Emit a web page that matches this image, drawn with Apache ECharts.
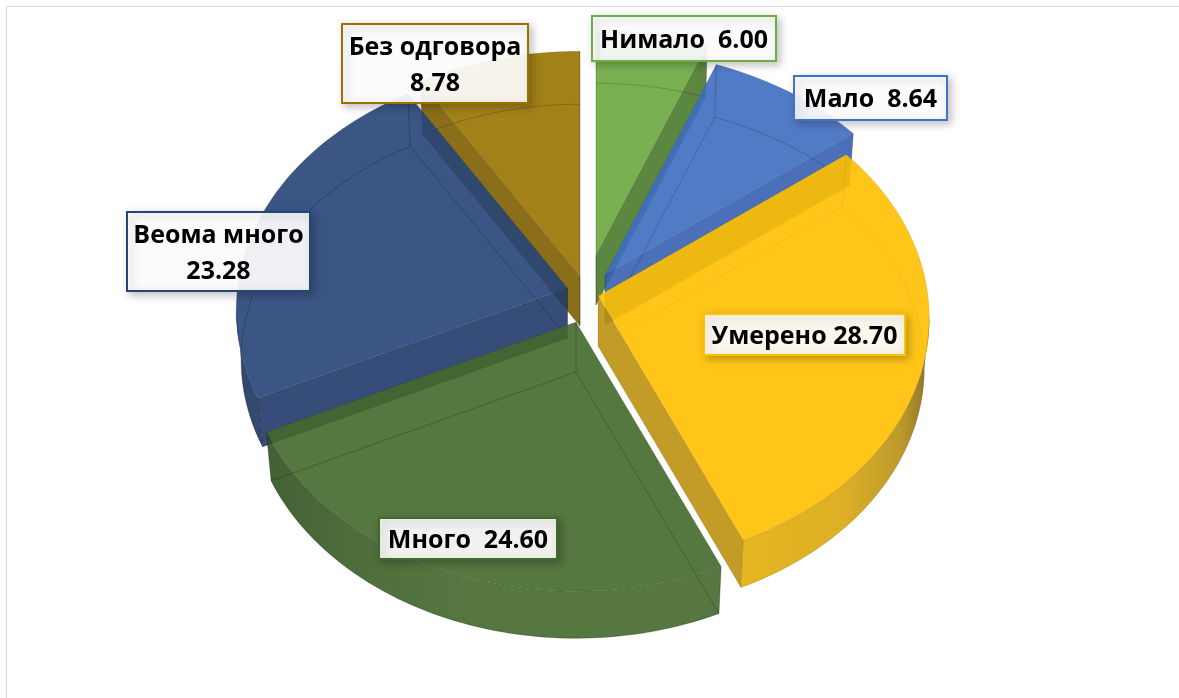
<!DOCTYPE html>
<html>
<head>
<meta charset="utf-8">
<style>html,body{margin:0;padding:0;background:#fff;overflow:hidden}#c{width:1179px;height:698px}</style>
<script src="https://cdn.jsdelivr.net/npm/echarts@6/dist/echarts.min.js"></script>
</head>
<body>
<div id="c"></div>
<script>
const categories = ['Нимало', 'Мало', 'Умерено', 'Много', 'Веома много', 'Без одговора'];
const values = [6.00, 8.64, 28.70, 24.60, 23.28, 8.78];
const separators = ['  ', '  ', ' ', '  ', '\n', '\n'];

// styling
const topColors = ['#6aa83f', '#3f6dc0', '#FFC000', '#43682B', '#264478', '#997300'];
const cutColors = ['#4a7a2c', '#3560b0', '#bd9010', '#3a5c25', '#1f3a69', '#7d5e00'];
const borderColors = ['#70AD47', '#4472C4', '#FFC000', '#43682B', '#264478', '#997300'];
const innerLineAlpha = [0.16, 0.18, 0.05, 0.2, 0.22, 0.18];

// layout of the exploded 3D view
const CX = 585, CY = 290, RADIUS = 330, PERSP = 0.09, DEPTH = 247, THICK = 50;
const apexOffsets = [[11, -35], [20, -15], [13, 6], [-9, 32], [-17.5, -2], [-5, -14]];
const drawRank = [0, 2, 4, 5, 3, 1];
const labelBoxes = [
  [592, 16, 184, 45], [794, 76, 153, 44], [704, 314, 201, 41],
  [379, 518, 178, 41], [127, 212, 183, 79], [342, 24, 186, 79]
];
const ALPHA = 0.9;

const total = values.reduce((a, b) => a + b, 0);
const rad = d => d * Math.PI / 180;
let run = 0;
const spans = values.map(v => { const a = run / total * 360; run += v; return [a, run / total * 360]; });

function pt(ax, ay, deg, rho, low) {
  const th = rad(deg), v = -Math.cos(th) * rho, s = 1 + PERSP * v;
  let x = RADIUS * Math.sin(th) * rho * s, y = DEPTH * v * s;
  if (low) { x *= 0.985; y += THICK * (1 - 0.06 * v); }
  return [ax + x, ay + y];
}
function arc(ax, ay, a, b, low) {
  const out = [], n = Math.max(2, Math.ceil(Math.abs(b - a) / 1.5));
  for (let i = 0; i <= n; i++) out.push(pt(ax, ay, a + (b - a) * i / n, 1, low));
  return out;
}
function wallFill(i) {
  if (i === 2) return new echarts.graphic.LinearGradient(0, 0, 1, 0, [
    { offset: 0, color: '#e2ae06' }, { offset: 0.55, color: '#d8a60e' },
    { offset: 0.85, color: '#b58e14' }, { offset: 1, color: '#7f6410' }
  ]);
  if (i === 3) return new echarts.graphic.LinearGradient(0, 0, 1, 0, [
    { offset: 0, color: '#2e4f20' }, { offset: 0.2, color: '#3a5e25' },
    { offset: 0.45, color: '#43682B' }, { offset: 1, color: '#43682B' }
  ]);
  return i === 4 ? '#1d3560' : topColors[i];
}

function renderItem(params, api) {
  const i = params.dataIndex;
  const [a, b] = spans[i];
  const ax = CX + apexOffsets[i][0];
  const ay = CY + apexOffsets[i][1];
  const z = drawRank[i] * 20 + 1;
  const kids = [];
  const poly = (points, fill, k) => kids.push({
    type: 'polygon', z2: z + k, shape: { points },
    style: { fill, opacity: ALPHA, stroke: 'rgba(0,0,0,0.12)', lineWidth: 0.7 }
  });
  const line = (points, k) => kids.push({
    type: 'polyline', z2: z + k, shape: { points },
    style: { fill: null, stroke: 'rgba(0,0,0,' + innerLineAlpha[i] + ')', lineWidth: 1 }
  });
  const apexT = pt(ax, ay, 0, 0, false), apexB = pt(ax, ay, 0, 0, true);
  const cutFace = deg => [apexT, pt(ax, ay, deg, 1, false), pt(ax, ay, deg, 1, true), apexB];

  // front-facing cut faces
  if (Math.sin(rad(a)) < -1e-6) poly(cutFace(a), cutColors[i], 0);
  if (Math.sin(rad(b)) > 1e-6) poly(cutFace(b), cutColors[i], 0);

  // visible outer wall
  const wa = Math.max(a, 95), wb = Math.min(b, 265);
  if (wb > wa) {
    poly(arc(ax, ay, wa, wb, false).concat(arc(ax, ay, wa, wb, true).reverse()), wallFill(i), 1);
  }

  // top face
  poly([apexT].concat(arc(ax, ay, a, b, false)), topColors[i], 2);

  // lower outline showing through the translucent body
  line([apexB, pt(ax, ay, a, 1, true)].concat(arc(ax, ay, a, b, true), [apexB]), 3);
  line([apexT, apexB], 3);
  line([pt(ax, ay, a, 1, false), pt(ax, ay, a, 1, true)], 3);
  line([pt(ax, ay, b, 1, false), pt(ax, ay, b, 1, true)], 3);

  // label
  const [bx, by, bw, bh] = labelBoxes[i];
  kids.push({
    type: 'rect', z2: 500 + i, shape: { x: bx, y: by, width: bw, height: bh },
    style: {
      fill: 'rgba(255,255,255,0.92)', stroke: borderColors[i], lineWidth: 2,
      shadowBlur: 8, shadowOffsetX: 3, shadowOffsetY: 3, shadowColor: 'rgba(0,0,0,0.25)'
    }
  });
  kids.push({
    type: 'text', z2: 520 + i, x: bx + bw / 2, y: by + bh / 2 + 2,
    style: {
      text: categories[i] + separators[i] + api.value(0).toFixed(2),
      fill: '#000', font: 'bold 25px "Open Sans"', align: 'center', verticalAlign: 'middle',
      lineHeight: 36
    }
  });
  return { type: 'group', children: kids };
}

const chart = echarts.init(document.getElementById('c'), null, { renderer: 'canvas' });
chart.setOption({
  animation: false,
  backgroundColor: '#fff',
  graphic: [
    { type: 'line', z: -1, shape: { x1: 6.5, y1: 6.5, x2: 1179, y2: 6.5 }, style: { stroke: '#d9d9d9', lineWidth: 1 } },
    { type: 'line', z: -1, shape: { x1: 6.5, y1: 6.5, x2: 6.5, y2: 698 }, style: { stroke: '#d9d9d9', lineWidth: 1 } }
  ],
  series: [{
    type: 'custom',
    coordinateSystem: 'none',
    renderItem,
    clip: false,
    data: values.map((v, i) => ({ name: categories[i], value: [v] }))
  }]
});
</script>
</body>
</html>
